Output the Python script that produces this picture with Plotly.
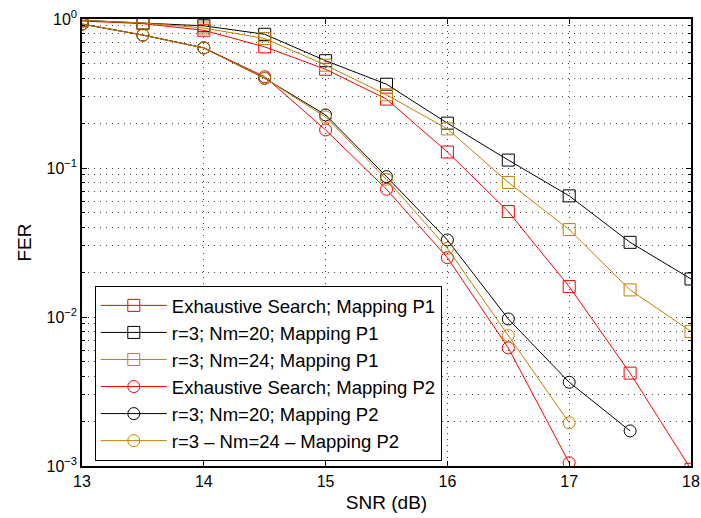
import plotly.graph_objects as go

snr = [13, 13.5, 14, 14.5, 15, 15.5, 16, 16.5, 17, 17.5, 18]
snr_p2_ex = [13, 13.5, 14, 14.5, 15, 15.5, 16, 16.5, 17]
snr_p2_20 = [13, 13.5, 14, 14.5, 15, 15.5, 16, 16.5, 17, 17.5]
snr_p2_24 = [13, 13.5, 14, 14.5, 15, 15.5, 16, 16.5, 17]

fer_ex_p1 = [0.97, 0.93, 0.84, 0.65, 0.46, 0.29, 0.128, 0.051, 0.016, 0.0042, 0.00095]
fer_20_p1 = [0.98, 0.94, 0.90, 0.79, 0.525, 0.365, 0.20, 0.113, 0.065, 0.0317, 0.018]
fer_24_p1 = [0.98, 0.94, 0.87, 0.74, 0.49, 0.31, 0.183, 0.080, 0.0386, 0.0152, 0.008]
fer_ex_p2 = [0.925, 0.78, 0.64, 0.41, 0.18, 0.072, 0.025, 0.0062, 0.00105]
fer_20_p2 = [0.925, 0.78, 0.64, 0.40, 0.227, 0.0875, 0.0329, 0.0097, 0.00365, 0.00172]
fer_24_p2 = [0.925, 0.78, 0.64, 0.40, 0.22, 0.084, 0.0289, 0.0075, 0.00195]

y_major = [1, 0.1, 0.01, 0.001]
y_major_text = ["10<sup>0</sup>", "10<sup>\u22121</sup>", "10<sup>\u22122</sup>", "10<sup>\u22123</sup>"]
y_minor = [m * 10.0 ** e for e in (-3, -2, -1) for m in range(2, 10)]

names = [
    "Exhaustive Search; Mapping P1",
    "r=3; Nm=20; Mapping P1",
    "r=3; Nm=24; Mapping P1",
    "Exhaustive Search; Mapping P2",
    "r=3; Nm=20; Mapping P2",
    "r=3 \u2013 Nm=24 \u2013 Mapping P2",
]
red = "#FF0000"
black = "#000000"
gold = "#BF8000"

series = [
    (snr, fer_ex_p1, red, "square-open"),
    (snr, fer_20_p1, black, "square-open"),
    (snr, fer_24_p1, gold, "square-open"),
    (snr_p2_ex, fer_ex_p2, red, "circle-open"),
    (snr_p2_20, fer_20_p2, black, "circle-open"),
    (snr_p2_24, fer_24_p2, gold, "circle-open"),
]

fig = go.Figure()
for (x, y, c, sym), nm in zip(series, names):
    fig.add_trace(go.Scatter(
        x=x, y=y, name=nm, mode="lines+markers",
        line=dict(color=c, width=1),
        marker=dict(symbol=sym, size=12, color=c, line=dict(color=c, width=1)),
    ))

font = "Liberation Sans, Arial, Helvetica, sans-serif"
grid_dash = "1px,5px"
fig.update_layout(
    width=701, height=518,
    margin=dict(l=82, r=10, t=19, b=52, autoexpand=False),
    paper_bgcolor="white", plot_bgcolor="white",
    font=dict(family=font, size=16, color="black"),
    showlegend=True,
    legend=dict(
        x=0.021, y=0.403, xanchor="left", yanchor="top",
        bgcolor="white", bordercolor="black", borderwidth=1,
        font=dict(size=18.5), tracegroupgap=0, itemwidth=66,
    ),
)
fig.update_xaxes(
    range=[13, 18], dtick=1, tick0=13, automargin=False,
    showline=True, linecolor="black", linewidth=1.5, mirror="ticks",
    ticks="inside", ticklen=5, tickcolor="black",
    showgrid=True, gridcolor="rgba(0,0,0,0.75)", griddash=grid_dash, gridwidth=1,
    zeroline=False,
    title=dict(text="SNR (dB)", standoff=7),
    tickfont=dict(size=16),
)
fig.update_yaxes(
    type="log", range=[-3, 0], automargin=False,
    tickmode="array", tickvals=y_major, ticktext=y_major_text,
    showline=True, linecolor="black", linewidth=1.5, mirror="ticks",
    ticks="inside", ticklen=5, tickcolor="black",
    showgrid=True, gridcolor="rgba(0,0,0,0.75)", griddash=grid_dash, gridwidth=1,
    minor=dict(tickmode="array", tickvals=y_minor, ticks="inside", ticklen=3,
               tickcolor="black", showgrid=True,
               gridcolor="rgba(0,0,0,0.7)", griddash=grid_dash, gridwidth=1),
    zeroline=False,
    title=dict(text="FER", standoff=10),
    tickfont=dict(size=16),
)
fig.write_html("out.html")
